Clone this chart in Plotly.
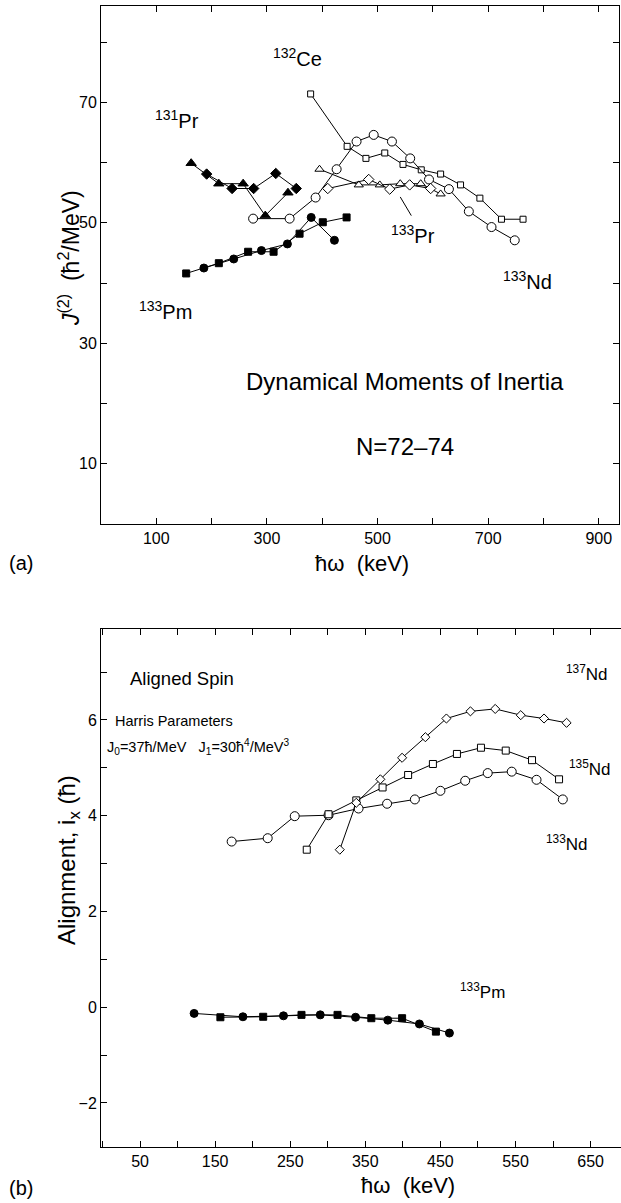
import plotly.graph_objects as go

# ---------------- (a) dynamical moments of inertia, J(2) vs hbar*omega ----------------
ce132_x = [379, 445, 479, 513, 546, 579, 614, 650, 685, 724, 763]
ce132_y = [71.4, 62.7, 60.7, 61.6, 59.7, 58.8, 58.1, 56.3, 54.1, 50.6, 50.6]

nd133a_x = [275, 341, 388, 426, 462, 493, 526, 559, 593, 629, 665, 706, 748]
nd133a_y = [50.7, 50.7, 54.2, 58.9, 63.5, 64.6, 63.5, 60.7, 57.2, 55.6, 51.9, 49.3, 47.1]

pr133_tri_x = [395, 466, 504, 541, 578, 614]
pr133_tri_y = [58.9, 56.3, 56.3, 56.5, 56.5, 54.8]
pr133_dia_x = [410, 484, 522, 558, 596]
pr133_dia_y = [55.7, 57.2, 55.6, 56.3, 55.7]

pr131_tri_x = [163, 213, 257, 297, 338]
pr131_tri_y = [59.9, 56.5, 56.5, 51.2, 55.0]
pr131_dia_x = [191, 237, 276, 316, 353]
pr131_dia_y = [58.1, 55.7, 55.7, 58.2, 55.7]

pm133a_sq_x = [154, 213, 266, 312, 359, 401, 444]
pm133a_sq_y = [41.6, 43.3, 45.2, 45.2, 48.2, 50.1, 50.9]
pm133a_ci_x = [186, 240, 290, 337, 380, 422]
pm133a_ci_y = [42.5, 44.0, 45.4, 46.5, 50.9, 47.1]

# ---------------- (b) aligned spin i_x vs hbar*omega ----------------
nd133b_x = [172, 220, 256, 301, 341, 379, 416, 450, 483, 513, 545, 578, 613]
nd133b_y = [3.46, 3.53, 3.99, 4.01, 4.15, 4.25, 4.34, 4.52, 4.73, 4.89, 4.92, 4.75, 4.34]

nd135_x = [272, 301, 338, 373, 407, 440, 472, 504, 537, 572, 608]
nd135_y = [3.29, 4.03, 4.32, 4.59, 4.85, 5.08, 5.29, 5.42, 5.36, 5.16, 4.76]

nd137_x = [316, 338, 370, 399, 430, 458, 490, 523, 557, 588, 618]
nd137_y = [3.29, 4.27, 4.76, 5.21, 5.64, 6.03, 6.18, 6.23, 6.10, 6.03, 5.94]

pm133b_ci_x = [122, 187, 241, 290, 337, 380, 422, 462]
pm133b_ci_y = [-0.13, -0.20, -0.18, -0.16, -0.21, -0.27, -0.35, -0.54]
pm133b_sq_x = [157, 214, 265, 313, 358, 399, 444]
pm133b_sq_y = [-0.21, -0.20, -0.16, -0.16, -0.23, -0.23, -0.51]

# leader line from the 133Pr label to its curve
pr133_leader_x = [541, 561]
pr133_leader_y = [54.3, 51.2]

W, H = 621, 1203
ML, MR, MT, MB = 101, 0, 6, 56
FONT = "Liberation Sans"
INK = "black"


def paper(px, py):
    """Figure pixel -> paper coordinates."""
    return (px - ML) / (W - ML - MR), (H - MB - py) / (H - MT - MB)


fig = go.Figure()


def series(x, y, symbol, size, filled, xa="x", ya="y"):
    fig.add_trace(go.Scatter(
        x=x, y=y, xaxis=xa, yaxis=ya, mode="lines+markers",
        line=dict(color=INK, width=1),
        marker=dict(symbol=symbol, size=size,
                    color=INK if filled else "white",
                    line=dict(color=INK, width=1)),
        showlegend=False, hoverinfo="x+y"))


# panel (a)
series(ce132_x, ce132_y, "square", 6, False)
series(nd133a_x, nd133a_y, "circle", 9, False)
series(pr133_tri_x, pr133_tri_y, "triangle-up", 8, False)
series(pr133_dia_x, pr133_dia_y, "diamond", 8, False)
series(pr131_tri_x, pr131_tri_y, "triangle-up", 9, True)
series(pr131_dia_x, pr131_dia_y, "diamond", 8, True)
series(pm133a_sq_x, pm133a_sq_y, "square", 7, True)
series(pm133a_ci_x, pm133a_ci_y, "circle", 8, True)

# panel (b)
series(nd133b_x, nd133b_y, "circle", 9, False, "x2", "y2")
series(nd135_x, nd135_y, "square", 7, False, "x2", "y2")
series(nd137_x, nd137_y, "diamond", 7, False, "x2", "y2")
series(pm133b_ci_x, pm133b_ci_y, "circle", 8, True, "x2", "y2")
series(pm133b_sq_x, pm133b_sq_y, "square", 7, True, "x2", "y2")

fig.add_shape(type="line", xref="x", yref="y",
              x0=pr133_leader_x[0], y0=pr133_leader_y[0],
              x1=pr133_leader_x[1], y1=pr133_leader_y[1],
              line=dict(color=INK, width=1))

tickfont = dict(family=FONT, size=16, color=INK)


def axis(domain, rng, tick0, dtick, minor_dtick, anchor, mirror):
    return dict(domain=domain, range=rng, anchor=anchor,
                tick0=tick0, dtick=dtick, ticks="inside", ticklen=6,
                tickwidth=1, tickcolor=INK,
                minor=dict(tick0=0, dtick=minor_dtick, ticks="inside",
                           ticklen=6, tickwidth=1, tickcolor=INK),
                showline=True, linecolor=INK, linewidth=1, mirror=mirror,
                showgrid=False, zeroline=False, tickfont=tickfont)


fig.update_layout(
    width=W, height=H, autosize=False,
    margin=dict(l=ML, r=MR, t=MT, b=MB, pad=0),
    paper_bgcolor="white", plot_bgcolor="white",
    font=dict(family=FONT, color=INK),
    xaxis=axis([0, 0.9967], [0, 937], 100, 200, 100, "y", "ticks"),
    yaxis=axis([0.546, 1], [0, 86], 10, 20, 10, "x", "ticks"),
    xaxis2=axis([0, 1], [-2, 690.5], 50, 100, 50, "y2", "ticks"),
    yaxis2=axis([0, 0.454], [-2.92, 7.9], 0, 2, 1, "x2", False),
)

ann = []


def label(text, x, y, size, xr="x", yr="y", angle=0):
    ann.append(dict(text=text, x=x, y=y, xref=xr, yref=yr, showarrow=False,
                    xanchor="center", yanchor="middle", textangle=angle,
                    font=dict(family=FONT, size=size, color=INK)))


def plabel(text, px, py, size, angle=0):
    x, y = paper(px, py)
    label(text, x, y, size, "paper", "paper", angle)


# panel (a) labels
label("<sup>132</sup>Ce", 355, 77.5, 20)
label("<sup>131</sup>Pr", 138, 67.2, 20)
label("<sup>133</sup>Pr", 564, 48.0, 20)
label("<sup>133</sup>Nd", 771, 40.5, 20)
label("<sup>133</sup>Pm", 116, 35.4, 20)
label("Dynamical Moments of Inertia", 549, 23.7, 24)
label("N=72\u201374", 549, 12.8, 24)

# panel (b) labels
label("Aligned Spin", 106, 6.87, 18.5, "x2", "y2")
label("Harris Parameters", 95, 5.97, 14.5, "x2", "y2")
label("J<sub>0</sub>=37\u0127/MeV   J<sub>1</sub>=30\u0127<sup>4</sup>/MeV<sup>3</sup>",
      128, 5.43, 14.5, "x2", "y2")
label("<sup>137</sup>Nd", 645, 6.99, 17, "x2", "y2")
label("<sup>135</sup>Nd", 649, 4.99, 17, "x2", "y2")
label("<sup>133</sup>Nd", 619, 3.44, 17, "x2", "y2")
label("<sup>133</sup>Pm", 506, 0.33, 17, "x2", "y2")

# axis titles and panel tags
plabel("\u0127\u03c9  (keV)", 362, 563, 22)
plabel("\u0127\u03c9  (keV)", 408, 1185, 22)
plabel("<i>J</i><sup>(2)</sup>  (\u0127<sup>2</sup>/MeV)", 69, 258, 23, -90)
plabel("Alignment, i<sub>x</sub> (\u0127)", 68, 860, 24, -90)
plabel("(a)", 21, 563, 20)
plabel("(b)", 21, 1188, 20)

fig.update_layout(annotations=ann)
fig.write_html("out.html")
